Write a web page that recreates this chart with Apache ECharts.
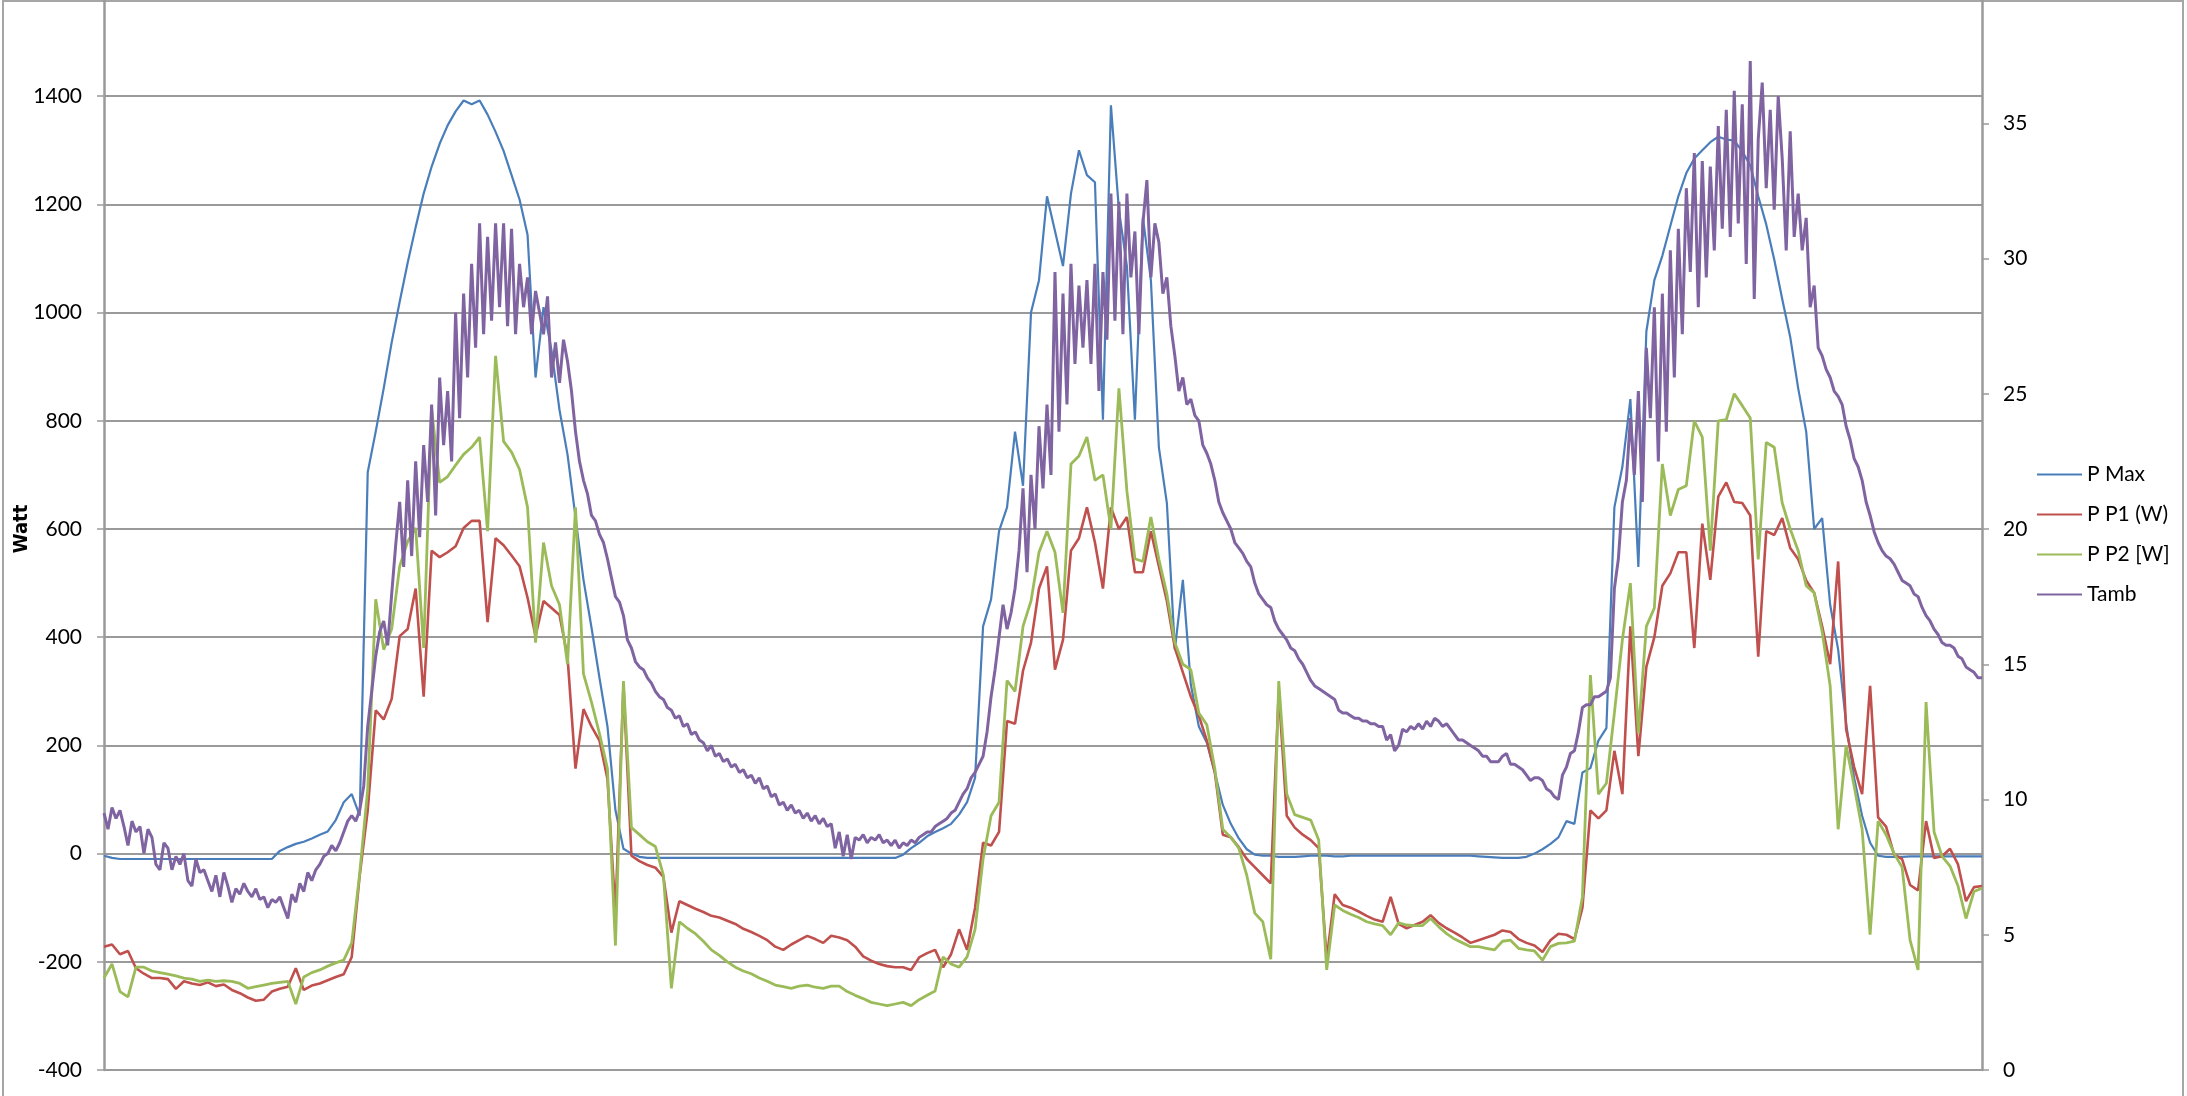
<!DOCTYPE html>
<html>
<head>
<meta charset="utf-8">
<script src="https://cdn.jsdelivr.net/npm/echarts@6/dist/echarts.min.js"></script>
<style>
  html, body { margin: 0; padding: 0; background: #fff; }
  #main { width: 2187px; height: 1096px; }
</style>
</head>
<body>
<div id="main"></div>
<script>
// power series, one sample every ~8px along the time axis
const P_MAX = [
  -4, -8, -10, -10, -10, -10, -10, -10, -10, -10,
  -10, -10, -10, -10, -10, -10, -10, -10, -10, -10,
  -10, -10, 5, 12, 18, 22, 28, 35, 41, 62,
  95, 110, 70, 705, 780, 860, 945, 1020, 1092, 1158,
  1220, 1270, 1312, 1346, 1372, 1392, 1385, 1392, 1366, 1334,
  1299, 1254, 1209, 1144, 880, 1010, 930, 820, 738, 622,
  506, 418, 325, 235, 80, 9, 0, -6, -8, -8,
  -8, -8, -8, -8, -8, -8, -8, -8, -8, -8,
  -8, -8, -8, -8, -8, -8, -8, -8, -8, -8,
  -8, -8, -8, -8, -8, -8, -8, -8, -8, -8,
  -2, 10, 20, 32, 40, 47, 55, 72, 95, 140,
  420, 470, 596, 640, 780, 680, 1000, 1060, 1215, 1151,
  1086, 1220, 1300, 1254, 1241, 802, 1383, 1190, 1086, 802,
  1176, 1060, 751, 648, 377, 506, 312, 235, 205, 150,
  90, 55, 28, 8, -2, -4, -4, -6, -6, -6,
  -5, -4, -4, -4, -5, -5, -4, -4, -4, -4,
  -4, -4, -4, -4, -4, -4, -4, -4, -4, -4,
  -4, -4, -5, -6, -7, -8, -8, -8, -6, 0,
  8, 18, 30, 60, 55, 150, 158, 209, 232, 640,
  715, 840, 530, 965, 1060, 1105, 1160, 1215, 1258, 1285,
  1300, 1315, 1325, 1320, 1318, 1298, 1272, 1215, 1163, 1098,
  1025, 955, 860, 780, 600, 620, 460, 377, 240, 140,
  70, 20, -4, -6, -6, -6, -5, -5, -5, -5,
  -5, -5, -5, -5, -5, -5
];

const P_P1 = [
  -172, -168, -186, -180, -212, -222, -230, -230, -232, -250,
  -236, -240, -243, -238, -245, -242, -252, -258, -266, -272,
  -270, -255, -250, -246, -212, -252, -244, -240, -234, -228,
  -223, -191, -40, 80, 265, 248, 286, 402, 415, 490,
  290, 560, 548, 557, 568, 602, 615, 615, 428, 583,
  570, 551, 531, 473, 402, 467, 454, 441, 364, 157,
  267, 235, 209, 138, -110, 312, -4, -14, -21, -26,
  -43, -146, -88, -95, -102, -108, -115, -118, -124, -130,
  -139, -145, -152, -160, -172, -178, -168, -160, -152, -158,
  -165, -152, -155, -160, -172, -190, -198, -204, -208, -210,
  -210, -215, -192, -184, -178, -210, -186, -140, -178, -100,
  20, 15, 40, 245, 240, 338, 390, 490, 531, 340,
  395, 560, 583, 640, 575, 490, 640, 600, 622, 520,
  520, 596, 531, 467, 380, 335, 290, 255, 209, 150,
  35, 30, 12, -10, -25, -40, -55, 300, 70, 48,
  35, 25, 10, -195, -75, -95, -100, -107, -115, -122,
  -126, -80, -130, -138, -132, -126, -114, -128, -138, -146,
  -155, -165, -160, -155, -150, -142, -145, -158, -165, -170,
  -182, -160, -148, -150, -158, -100, 80, 65, 80, 190,
  110, 420, 180, 345, 400, 495, 518, 557, 557, 380,
  610, 506, 660, 686, 650, 648, 625, 364, 596, 589,
  620, 565, 544, 505, 482, 420, 350, 540, 230, 160,
  110, 310, 67, 50, -2, -10, -58, -68, 60, -8,
  -5, 9, -20, -88, -62, -60
];

const P_P2 = [
  -230, -204, -255, -265, -210, -210, -217, -220, -223, -226,
  -230, -232, -236, -234, -236, -235, -236, -240, -249, -246,
  -243, -240, -238, -236, -278, -228, -220, -215, -208, -202,
  -197, -165, -36, 119, 470, 377, 415, 531, 577, 602,
  380, 822, 686, 697, 718, 738, 751, 770, 596, 920,
  762, 742, 710, 640, 390, 575, 495, 460, 350, 640,
  332, 280, 222, 157, -170, 319, 48, 35, 22, 13,
  -40, -249, -126, -138, -148, -162, -178, -188, -200, -210,
  -217, -222, -230, -236, -243, -246, -249, -245, -243, -247,
  -249, -245, -245, -255, -262, -268, -275, -278, -281, -278,
  -275, -281, -270, -262, -254, -191, -204, -210, -191, -140,
  -10, 70, 95, 320, 300, 420, 467, 557, 596, 557,
  445, 720, 735, 770, 690, 700, 600, 860, 670, 545,
  540, 622, 544, 480, 390, 350, 340, 260, 238, 157,
  45, 30, 10, -40, -110, -126, -195, 319, 110, 72,
  67, 62, 25, -215, -95, -105, -112, -118, -126, -130,
  -133, -150, -128, -132, -133, -133, -120, -135, -148, -158,
  -165, -172, -172, -175, -178, -162, -160, -175, -178, -180,
  -197, -172, -166, -165, -162, -80, 330, 110, 130, 260,
  395, 500, 222, 420, 454, 720, 625, 673, 680, 800,
  770, 560, 800, 802, 850, 828, 805, 544, 760, 751,
  648, 600, 560, 495, 482, 410, 310, 45, 200, 125,
  45, -150, 60, 35, 0, -25, -160, -215, 280, 40,
  -5, -23, -60, -120, -70, -64
];

// ambient temperature is much noisier, so it is read twice as densely (~4px)
const TAMB = [
  9.5, 8.9, 9.7, 9.3, 9.6, 9.0, 8.3, 9.2, 8.8, 9.0,
  8.0, 8.9, 8.6, 7.6, 7.4, 8.4, 8.2, 7.4, 7.9, 7.6,
  8.0, 7.0, 6.8, 7.8, 7.3, 7.4, 7.0, 6.6, 7.2, 6.4,
  7.3, 6.8, 6.2, 6.7, 6.5, 6.9, 6.6, 6.4, 6.7, 6.3,
  6.4, 6.0, 6.3, 6.2, 6.4, 6.0, 5.6, 6.5, 6.2, 6.9,
  6.6, 7.3, 7.0, 7.4, 7.6, 7.9, 8.0, 8.3, 8.1, 8.4,
  8.8, 9.2, 9.4, 9.2, 9.6, 10.5, 12.7, 14.0, 15.3, 16.2,
  16.6, 15.7, 17.6, 19.4, 21.0, 18.6, 21.8, 19.0, 22.5, 19.7,
  23.1, 21.0, 24.6, 20.5, 25.6, 23.1, 25.1, 22.5, 28.0, 24.1,
  28.7, 25.6, 29.8, 26.7, 31.3, 27.2, 30.8, 27.7, 31.3, 28.2,
  31.3, 27.5, 31.1, 27.2, 29.8, 28.2, 29.3, 27.2, 28.8, 28.0,
  27.2, 28.6, 25.6, 26.9, 25.4, 27.0, 26.2, 25.1, 23.6, 22.5,
  21.8, 21.3, 20.5, 20.3, 19.8, 19.5, 18.9, 18.2, 17.5, 17.3,
  16.8, 15.9, 15.6, 15.1, 14.9, 14.8, 14.5, 14.3, 14.0, 13.8,
  13.7, 13.4, 13.3, 13.0, 13.1, 12.7, 12.8, 12.4, 12.5, 12.2,
  12.1, 11.8, 12.0, 11.6, 11.7, 11.4, 11.5, 11.2, 11.3, 11.0,
  11.1, 10.8, 10.9, 10.6, 10.8, 10.4, 10.5, 10.1, 10.2, 9.8,
  9.9, 9.6, 9.8, 9.5, 9.6, 9.3, 9.5, 9.2, 9.4, 9.1,
  9.3, 9.0, 9.1, 8.2, 8.8, 7.9, 8.7, 7.8, 8.6, 8.5,
  8.7, 8.4, 8.6, 8.5, 8.7, 8.4, 8.5, 8.3, 8.5, 8.2,
  8.4, 8.3, 8.5, 8.4, 8.6, 8.7, 8.8, 8.8, 9.0, 9.1,
  9.2, 9.3, 9.5, 9.6, 9.9, 10.2, 10.4, 10.8, 11.0, 11.3,
  11.6, 12.5, 13.8, 14.8, 16.0, 17.2, 16.3, 16.9, 17.8, 19.2,
  21.5, 18.4, 22.0, 20.0, 23.8, 21.5, 24.6, 22.0, 29.5, 23.6,
  28.7, 24.6, 29.8, 26.1, 29.0, 26.7, 29.2, 26.1, 29.8, 25.1,
  29.5, 27.0, 32.4, 27.7, 32.1, 27.2, 32.4, 29.3, 31.0, 27.2,
  31.3, 32.9, 29.3, 31.3, 30.6, 28.7, 29.3, 27.5, 26.4, 25.1,
  25.6, 24.6, 24.8, 24.2, 24.0, 23.1, 22.8, 22.4, 21.8, 21.0,
  20.6, 20.3, 20.0, 19.5, 19.3, 19.1, 18.8, 18.6, 18.0, 17.6,
  17.4, 17.2, 17.1, 16.6, 16.3, 16.1, 15.9, 15.6, 15.5, 15.2,
  15.0, 14.7, 14.4, 14.2, 14.1, 14.0, 13.9, 13.8, 13.7, 13.3,
  13.2, 13.2, 13.1, 13.0, 13.0, 12.9, 12.9, 12.8, 12.8, 12.7,
  12.7, 12.2, 12.4, 11.8, 12.0, 12.6, 12.5, 12.7, 12.6, 12.8,
  12.6, 12.9, 12.7, 13.0, 12.9, 12.7, 12.8, 12.6, 12.4, 12.2,
  12.2, 12.1, 12.0, 11.9, 11.8, 11.6, 11.6, 11.4, 11.4, 11.4,
  11.6, 11.7, 11.3, 11.3, 11.2, 11.1, 10.9, 10.7, 10.8, 10.8,
  10.7, 10.4, 10.3, 10.1, 10.0, 10.9, 11.2, 11.7, 11.8, 12.5,
  13.4, 13.5, 13.5, 13.8, 13.8, 13.9, 14.0, 14.5, 17.8, 18.9,
  21.0, 21.8, 24.1, 22.0, 25.1, 21.0, 26.7, 24.1, 28.2, 22.5,
  28.7, 23.6, 30.3, 25.6, 31.1, 27.2, 32.6, 29.5, 33.9, 28.2,
  33.6, 29.3, 33.4, 30.3, 34.9, 31.1, 35.5, 30.8, 36.2, 31.3,
  35.7, 29.8, 37.3, 28.5, 34.4, 36.5, 32.6, 35.5, 31.8, 36.0,
  33.7, 30.3, 34.7, 30.8, 32.4, 30.3, 31.5, 28.2, 29.0, 26.7,
  26.4, 25.9, 25.6, 25.1, 24.9, 24.6, 23.8, 23.3, 22.6, 22.3,
  21.8, 21.0, 20.5, 19.9, 19.5, 19.2, 19.0, 18.9, 18.7, 18.4,
  18.1, 18.0, 17.9, 17.6, 17.5, 17.1, 16.8, 16.6, 16.3, 16.1,
  15.8, 15.7, 15.7, 15.6, 15.3, 15.2, 14.9, 14.8, 14.7, 14.5,
  14.5
];

const SERIES_NAMES = ['P Max', 'P P1 (W)', 'P P2 [W]', 'Tamb'];
const COLORS = ['#4a7ebb', '#c0504d', '#9bbb59', '#8064a2'];

const samples = P_MAX.map((_, i) => i);
const fineSamples = TAMB.map((_, i) => i);

const chart = echarts.init(document.getElementById('main'));

const labelFont = { fontFamily: 'Lato', fontSize: 21, color: '#000' };
const axisGray = '#9a9a9a';
const plain = v => String(v);

function line(name, data, color, width, xIdx, yIdx) {
  return {
    name: name,
    type: 'line',
    data: data,
    xAxisIndex: xIdx,
    yAxisIndex: yIdx,
    symbol: 'none',
    lineStyle: { color: color, width: width },
    itemStyle: { color: color },
    emphasis: { disabled: true }
  };
}

chart.setOption({
  animation: false,
  backgroundColor: '#fff',
  grid: { left: 104, right: 205, top: -12, bottom: 26, outerBoundsMode: 'none' },
  graphic: [{
    type: 'rect',
    shape: { x: 3, y: 1, width: 2180, height: 1200 },
    style: { fill: 'none', stroke: '#a6a6a6', lineWidth: 2 },
    silent: true
  }],
  legend: {
    orient: 'vertical',
    left: 2032,
    top: 459,
    itemWidth: 45,
    itemHeight: 2,
    itemGap: 19,
    icon: 'rect',
    textStyle: labelFont,
    data: SERIES_NAMES
  },
  xAxis: [{
    type: 'category',
    data: samples,
    boundaryGap: false,
    axisLine: { lineStyle: { color: axisGray, width: 2 } },
    axisTick: { show: false },
    axisLabel: { show: false },
    splitLine: { show: false }
  }, {
    type: 'category',
    data: fineSamples,
    boundaryGap: false,
    show: false
  }],
  yAxis: [{
    type: 'value',
    min: -400,
    max: 1600,
    interval: 200,
    name: 'Watt',
    nameLocation: 'middle',
    nameRotate: 90,
    nameGap: 72,
    nameMoveOverlap: false,
    nameTextStyle: {
      fontFamily: "'DejaVu Sans Condensed', 'Liberation Sans Narrow', Lato",
      fontWeight: 'bold',
      fontSize: 20,
      color: '#000'
    },
    axisLine: { show: true, lineStyle: { color: axisGray, width: 2.5 } },
    axisTick: { show: true, inside: false, length: 7, lineStyle: { color: axisGray, width: 1.5 } },
    axisLabel: Object.assign({ margin: 22, formatter: plain }, labelFont),
    splitLine: { show: true, lineStyle: { color: axisGray, width: 2 } }
  }, {
    type: 'value',
    position: 'right',
    min: 0,
    max: 40,
    interval: 5,
    axisLine: { show: true, lineStyle: { color: axisGray, width: 2.5 } },
    axisTick: { show: true, inside: false, length: 7, lineStyle: { color: axisGray, width: 1.5 } },
    axisLabel: Object.assign({ margin: 21, formatter: plain }, labelFont),
    splitLine: { show: false }
  }],
  series: [
    line(SERIES_NAMES[0], P_MAX, COLORS[0], 2.2, 0, 0),
    line(SERIES_NAMES[1], P_P1, COLORS[1], 2.6, 0, 0),
    line(SERIES_NAMES[2], P_P2, COLORS[2], 2.8, 0, 0),
    line(SERIES_NAMES[3], TAMB, COLORS[3], 3, 1, 1)
  ]
});
</script>
</body>
</html>
